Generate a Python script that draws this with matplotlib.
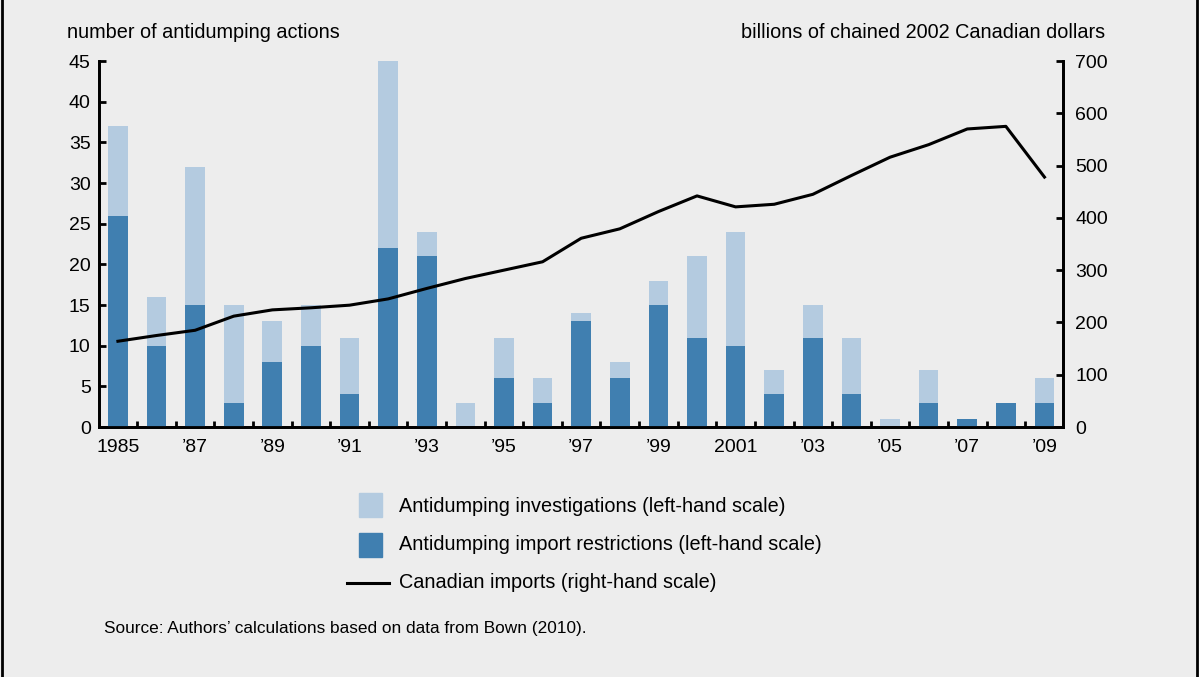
import numpy as np
import matplotlib.pyplot as plt
from matplotlib.patches import Rectangle
from matplotlib.lines import Line2D

plt.rcParams['font.family'] = ['Liberation Sans', 'DejaVu Sans']

# Data
years = list(range(1985, 2010))
investigations = [37, 16, 32, 15, 13, 15, 11, 45, 24, 3, 11, 6, 14, 8, 18, 21, 24, 7,
                  15, 11, 1, 7, 1, 3, 6]
restrictions = [26, 10, 15, 3, 8, 10, 4, 22, 21, 0, 6, 3, 13, 6, 15, 11, 10, 4,
                11, 4, 0, 3, 1, 3, 3]
imports = [164, 175, 185, 212, 224, 228, 233, 245, 265, 284, 300, 316, 361, 379, 412,
           442, 421, 426, 445, 481, 516, 540, 570, 575, 478]
xlabels = ['1985', "\u201987", "\u201989", "\u201991", "\u201993", "\u201995", "\u201997",
           "\u201999", '2001', "\u201903", "\u201905", "\u201907", "\u201909"]

light = '#b4cbe0'
dark = '#407fb0'
bg = '#ededed'
fs = 14
fs_text = 14.3

W, H = 1199, 677
fig = plt.figure(figsize=(11.99, 6.77), dpi=100, facecolor=bg)
ax = fig.add_axes([99 / W, 1 - 427 / H, (1063 - 99) / W, (427 - 61) / H])
ax.set_facecolor(bg)

x = np.array(years)
ax.bar(x, investigations, width=0.51, color=light, zorder=2)
ax.bar(x, restrictions, width=0.51, color=dark, zorder=3)

ax.set_xlim(1984.51, 2009.48)
ax.set_ylim(0, 45)
ax.set_yticks(range(0, 46, 5))
ax.set_xticks(np.arange(1985.5, 2009, 1))
ax.set_xticklabels([])
ax.set_xticks(years[::2], minor=True)
ax.set_xticklabels(xlabels, minor=True)
ax.tick_params(axis='x', which='major', direction='in', length=4, width=2, labelsize=fs)
ax.tick_params(axis='x', which='minor', length=0, labelsize=fs, pad=9)
ax.tick_params(axis='y', direction='in', length=5, width=2, labelsize=fs, pad=6)

for s in ['left', 'bottom', 'right']:
    ax.spines[s].set_linewidth(2)
ax.spines['top'].set_visible(False)

ax2 = ax.twinx()
ax2.plot(x, imports, color='black', lw=2.2, zorder=4)
ax2.set_ylim(0, 700)
ax2.set_yticks(range(0, 701, 100))
ax2.tick_params(axis='y', direction='in', length=5, width=2, labelsize=fs, pad=9)
for s in ['left', 'bottom', 'right']:
    ax2.spines[s].set_linewidth(2)
ax2.spines['top'].set_visible(False)

fig.text(67 / W, 1 - 32 / H, 'number of antidumping actions', fontsize=fs_text,
         ha='left', va='center')
fig.text(1105 / W, 1 - 32 / H, 'billions of chained 2002 Canadian dollars',
         fontsize=fs_text, ha='right', va='center')

# Legend
fig.add_artist(Rectangle((359 / W, 1 - 517 / H), 23 / W, 24 / H, color=light,
                         transform=fig.transFigure))
fig.add_artist(Rectangle((359 / W, 1 - 557 / H), 23 / W, 24 / H, color=dark,
                         transform=fig.transFigure))
fig.add_artist(Line2D([347 / W, 389 / W], [1 - 583 / H, 1 - 583 / H], color='black',
                      lw=2.2, transform=fig.transFigure))
fig.text(399 / W, 1 - 507 / H, 'Antidumping investigations (left-hand scale)',
         fontsize=fs_text, va='center')
fig.text(399 / W, 1 - 545 / H, 'Antidumping import restrictions (left-hand scale)',
         fontsize=fs_text, va='center')
fig.text(399 / W, 1 - 582 / H, 'Canadian imports (right-hand scale)',
         fontsize=fs_text, va='center')

fig.text(104 / W, 1 - 628 / H,
         'Source: Authors\u2019 calculations based on data from Bown (2010).',
         fontsize=12.4, va='center')

# Frame sides
fig.add_artist(Line2D([0.0015, 0.0015], [0, 1], color='black', lw=2,
                      transform=fig.transFigure))
fig.add_artist(Line2D([0.9985, 0.9985], [0, 1], color='black', lw=2,
                      transform=fig.transFigure))

fig.savefig('out.png', dpi=100, facecolor=bg)
